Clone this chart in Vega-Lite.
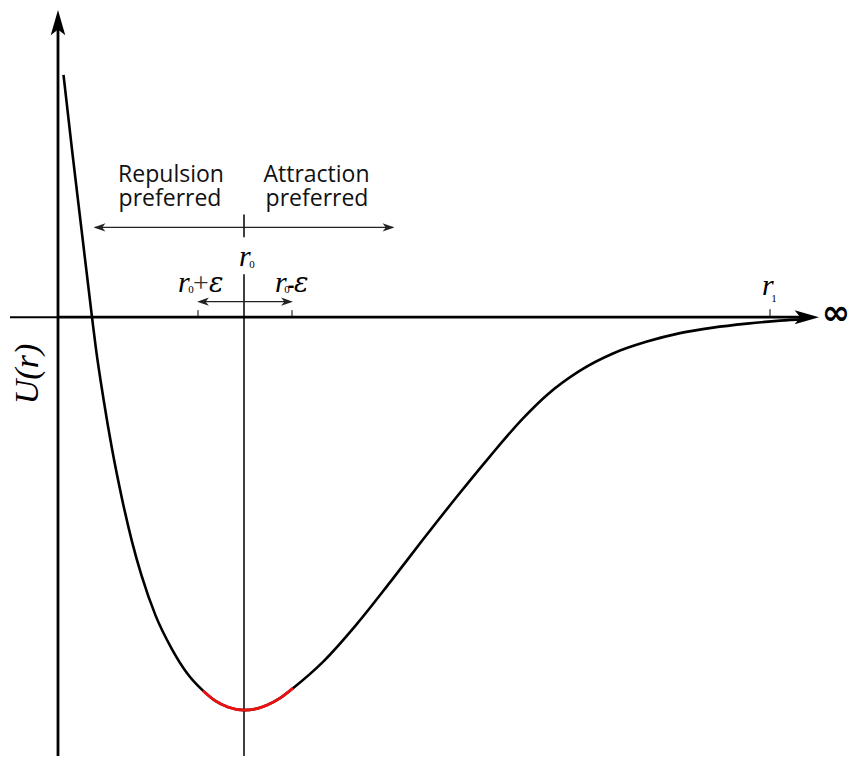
{
  "$schema": "https://vega.github.io/schema/vega-lite/v6.json",
  "width": 852,
  "height": 758,
  "autosize": {"type": "fit", "contains": "padding"},
  "padding": 0,
  "background": "white",
  "config": {"view": {"stroke": null}},
  "datasets": {
    "curve": [
      {"r": 5.5, "U": 243},
      {"r": 14, "U": 168},
      {"r": 23.5, "U": 88},
      {"r": 34, "U": 0},
      {"r": 38, "U": -32},
      {"r": 45.5, "U": -82},
      {"r": 54, "U": -132},
      {"r": 64, "U": -182},
      {"r": 74, "U": -225},
      {"r": 83.5, "U": -259},
      {"r": 97.5, "U": -299},
      {"r": 113.5, "U": -332},
      {"r": 129.5, "U": -357.5},
      {"r": 145, "U": -374.5},
      {"r": 157, "U": -384.5},
      {"r": 170, "U": -391},
      {"r": 186, "U": -394},
      {"r": 198, "U": -392.7},
      {"r": 209, "U": -389},
      {"r": 222, "U": -382},
      {"r": 235, "U": -372},
      {"r": 265, "U": -345.6},
      {"r": 299, "U": -307.5},
      {"r": 332, "U": -265.9},
      {"r": 365, "U": -223},
      {"r": 399, "U": -179.8},
      {"r": 432, "U": -139.5},
      {"r": 465, "U": -101.5},
      {"r": 489, "U": -78},
      {"r": 522, "U": -53.6},
      {"r": 555, "U": -36.4},
      {"r": 589, "U": -24.5},
      {"r": 622, "U": -16},
      {"r": 655, "U": -10.5},
      {"r": 689, "U": -6.5},
      {"r": 722, "U": -3.5},
      {"r": 747, "U": -2}
    ],
    "well": [
      {"r": 129.5, "U": -357.5},
      {"r": 145, "U": -374.5},
      {"r": 157, "U": -384.5},
      {"r": 170, "U": -391},
      {"r": 186, "U": -394},
      {"r": 198, "U": -392.7},
      {"r": 209, "U": -389},
      {"r": 222, "U": -382},
      {"r": 235, "U": -372},
      {"r": 265, "U": -345.6}
    ],
    "axes": [
      {"r": 0, "U": -440, "r2": 0, "U2": 290},
      {"r": 0, "U": 0, "r2": 745, "U2": 0}
    ],
    "axisStub": [
      {"r": -48, "U": 0, "r2": 0, "U2": 0}
    ],
    "r0Line": [
      {"r": 186, "U": 103, "r2": 186, "U2": 80},
      {"r": 186, "U": 43, "r2": 186, "U2": -440}
    ],
    "spans": [
      {"r": 37, "U": 90, "r2": 335, "U2": 90},
      {"r": 142, "U": 15.5, "r2": 232, "U2": 15.5}
    ],
    "ticks": [
      {"r": 140, "U": 0, "r2": 140, "U2": 7},
      {"r": 234, "U": 0, "r2": 234, "U2": 7},
      {"r": 712, "U": 0, "r2": 712, "U2": 8}
    ],
    "headUp": [{"r": 0, "U": 295}],
    "headRight": [{"r": 748.5, "U": 0}],
    "spanHeadRight": [{"r": 330.5, "U": 90}, {"r": 229, "U": 15.5}],
    "spanHeadLeft": [{"r": 41.5, "U": 90}, {"r": 145, "U": 15.5}],
    "words": [
      {"label": "Repulsion", "r": 113, "U": 136},
      {"label": "preferred", "r": 112, "U": 111},
      {"label": "Attraction", "r": 258.5, "U": 136},
      {"label": "preferred", "r": 259, "U": 111}
    ],
    "radii": [
      {"label": "r", "r": 181, "U": 51},
      {"label": "r", "r": 120, "U": 25},
      {"label": "r", "r": 217, "U": 25},
      {"label": "r", "r": 704, "U": 22}
    ],
    "epsilons": [
      {"label": "ε", "r": 151, "U": 25},
      {"label": "ε", "r": 236, "U": 25}
    ],
    "subscripts": [
      {"label": "0", "r": 194, "U": 49},
      {"label": "0", "r": 133, "U": 24},
      {"label": "0", "r": 229, "U": 24},
      {"label": "1", "r": 716, "U": 15}
    ],
    "plus": [{"label": "+", "r": 143, "U": 25}],
    "minus": [{"label": "-", "r": 233, "U": 25}],
    "infinity": [{"label": "∞", "r": 778, "U": 3}],
    "yTitle": [{"label": "U(r)", "r": -30, "U": -57}]
  },
  "encoding": {
    "x": {"field": "r", "type": "quantitative", "scale": {"domain": [-58, 794], "nice": false, "zero": false}, "axis": null},
    "y": {"field": "U", "type": "quantitative", "scale": {"domain": [-440, 318], "nice": false, "zero": false}, "axis": null}
  },
  "layer": [
    {
      "data": {"name": "r0Line"},
      "mark": {"type": "rule", "color": "black", "strokeWidth": 1.5},
      "encoding": {"x2": {"field": "r2"}, "y2": {"field": "U2"}}
    },
    {
      "data": {"name": "axisStub"},
      "mark": {"type": "rule", "color": "black", "strokeWidth": 2},
      "encoding": {"x2": {"field": "r2"}, "y2": {"field": "U2"}}
    },
    {
      "data": {"name": "axes"},
      "mark": {"type": "rule", "color": "black", "strokeWidth": 2.8},
      "encoding": {"x2": {"field": "r2"}, "y2": {"field": "U2"}}
    },
    {
      "data": {"name": "ticks"},
      "mark": {"type": "rule", "color": "black", "strokeWidth": 1},
      "encoding": {"x2": {"field": "r2"}, "y2": {"field": "U2"}}
    },
    {
      "data": {"name": "spans"},
      "mark": {"type": "rule", "color": "#222", "strokeWidth": 1.3},
      "encoding": {"x2": {"field": "r2"}, "y2": {"field": "U2"}}
    },
    {
      "data": {"name": "headUp"},
      "mark": {"type": "point", "filled": true, "opacity": 1, "color": "black", "size": 676, "angle": 0,
        "shape": "M0,-1L0.56,0.95L0,0.5L-0.56,0.95Z"}
    },
    {
      "data": {"name": "headRight"},
      "mark": {"type": "point", "filled": true, "opacity": 1, "color": "black", "size": 625, "angle": 90,
        "shape": "M0,-1L0.56,0.95L0,0.5L-0.56,0.95Z"}
    },
    {
      "data": {"name": "spanHeadRight"},
      "mark": {"type": "point", "filled": true, "opacity": 1, "color": "#222", "size": 140, "angle": 90,
        "shape": "M0,-1L0.7,1L0,0.45L-0.7,1Z"}
    },
    {
      "data": {"name": "spanHeadLeft"},
      "mark": {"type": "point", "filled": true, "opacity": 1, "color": "#222", "size": 140, "angle": 270,
        "shape": "M0,-1L0.7,1L0,0.45L-0.7,1Z"}
    },
    {
      "data": {"name": "curve"},
      "mark": {"type": "line", "interpolate": "monotone", "strokeWidth": 2.6, "color": "black"}
    },
    {
      "data": {"name": "well"},
      "transform": [{"filter": "datum.r >= 145 && datum.r <= 235"}],
      "mark": {"type": "line", "interpolate": "monotone", "strokeWidth": 2.8, "color": "#ee1111", "strokeCap": "butt"}
    },
    {
      "data": {"name": "words"},
      "mark": {"type": "text", "font": "Open Sans", "fontSize": 23, "align": "center", "baseline": "alphabetic", "color": "#111"},
      "encoding": {"text": {"field": "label"}}
    },
    {
      "data": {"name": "radii"},
      "mark": {"type": "text", "font": "Liberation Serif", "fontStyle": "italic", "fontSize": 30, "align": "left", "baseline": "alphabetic", "color": "black"},
      "encoding": {"text": {"field": "label"}}
    },
    {
      "data": {"name": "epsilons"},
      "mark": {"type": "text", "font": "DejaVu Serif", "fontStyle": "italic", "fontSize": 27, "align": "left", "baseline": "alphabetic", "color": "black"},
      "encoding": {"text": {"field": "label"}}
    },
    {
      "data": {"name": "subscripts"},
      "mark": {"type": "text", "font": "Liberation Serif", "fontSize": 11, "align": "center", "baseline": "alphabetic", "color": "black"},
      "encoding": {"text": {"field": "label"}}
    },
    {
      "data": {"name": "plus"},
      "mark": {"type": "text", "font": "Liberation Serif", "fontSize": 28, "align": "center", "baseline": "alphabetic", "color": "#333"},
      "encoding": {"text": {"field": "label"}}
    },
    {
      "data": {"name": "minus"},
      "mark": {"type": "text", "font": "Open Sans", "fontWeight": "bold", "fontSize": 20, "align": "center", "baseline": "alphabetic", "color": "black"},
      "encoding": {"text": {"field": "label"}}
    },
    {
      "data": {"name": "infinity"},
      "mark": {"type": "text", "font": "DejaVu Sans", "fontWeight": "bold", "fontSize": 34, "align": "center", "baseline": "middle", "color": "black"},
      "encoding": {"text": {"field": "label"}}
    },
    {
      "data": {"name": "yTitle"},
      "mark": {"type": "text", "font": "Liberation Serif", "fontStyle": "italic", "fontSize": 34, "angle": 270, "align": "center", "baseline": "middle", "color": "black"},
      "encoding": {"text": {"field": "label"}}
    }
  ]
}
